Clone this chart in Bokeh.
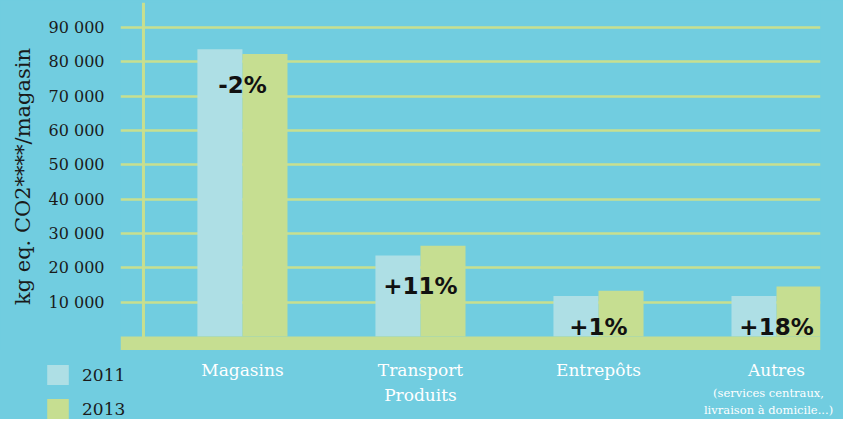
from bokeh.plotting import figure
from bokeh.layouts import column, row
from bokeh.models import (Range1d, FixedTicker, Span, BoxAnnotation, Legend, LegendItem,
                          ColumnDataSource)
from bokeh.transform import dodge
from bokeh.core.properties import value
from bokeh.embed import file_html
from bokeh.resources import INLINE

# ---- data ----
categories = ["Magasins", "Transport\nProduits", "Entrepôts", "Autres"]
autres_note = "(services centraux,\nlivraison à domicile...)"
values_2011 = [83700, 23600, 11800, 11800]
values_2013 = [82300, 26400, 13300, 14600]
changes = ["-2%", "+11%", "+1%", "+18%"]
y_ticks = [10000, 20000, 30000, 40000, 50000, 60000, 70000, 80000, 90000]
y_tick_labels = ["10 000", "20 000", "30 000", "40 000", "50 000",
                 "60 000", "70 000", "80 000", "90 000"]
series_names = ["2011", "2013"]

BG = "#71CDE0"
C2011 = "#AEDFE5"
C2013 = "#C6DE91"
GRID = "#C8DF8F"
SERIF = "DejaVu Serif"
INK = "#1a1a1a"

W = 843
LEFT, RIGHT = 120, 23
FRAME_W = W - LEFT - RIGHT
BOTTOM_H = 69
LEG_W = 145

xs = list(range(len(categories)))
src = ColumnDataSource(dict(
    x=xs, v2011=values_2011, v2013=values_2013, pct=changes,
    ylab=[min(a, b) for a, b in zip(values_2011, values_2013)],
))

xr = Range1d(-0.685, 3.247)
p = figure(width=W, height=350, output_backend="svg", toolbar_location=None,
           x_range=xr, y_range=Range1d(-4080, 97300), x_axis_location=None,
           min_border_left=LEFT, min_border_right=RIGHT, min_border_top=2, min_border_bottom=0)
p.background_fill_color = None
p.border_fill_color = BG
p.outline_line_color = None

bw = 0.253
p.vbar(x=dodge("x", -bw / 2, range=p.x_range), top="v2011", width=bw, bottom=0,
       source=src, fill_color=C2011, line_color=None)
p.vbar(x=dodge("x", bw / 2, range=p.x_range), top="v2013", width=bw, bottom=0,
       source=src, fill_color=C2013, line_color=None)

p.text(x="x", y="ylab", text="pct", source=src, text_align="center", text_baseline="middle",
       y_offset=31, text_font=value("DejaVu Sans"), text_font_style="bold",
       text_font_size="23px", text_color="#111111")

# decorations
p.add_layout(Span(location=-0.556, dimension="height", line_color=GRID, line_width=3))
p.add_layout(BoxAnnotation(top=0, fill_color=C2013, fill_alpha=1, line_color=None))

# grid
p.xgrid.grid_line_color = None
p.ygrid.grid_line_color = GRID
p.ygrid.grid_line_width = 2.5
p.ygrid.ticker = FixedTicker(ticks=y_ticks)

# y axis
ya = p.yaxis[0]
ya.ticker = FixedTicker(ticks=y_ticks)
ya.major_label_overrides = {t: l for t, l in zip(y_ticks, y_tick_labels)}
ya.axis_line_color = None
ya.major_tick_line_color = None
ya.minor_tick_line_color = None
ya.major_label_standoff = 10
ya.major_label_text_font = SERIF
ya.major_label_text_font_size = "16px"
ya.major_label_text_color = INK
ya.axis_label = "kg eq. CO2****/magasin"
ya.axis_label_text_font = SERIF
ya.axis_label_text_font_size = "21px"
ya.axis_label_text_font_style = "normal"
ya.axis_label_text_color = INK
ya.axis_label_standoff = 11


def strip(width, x_range):
    f = figure(width=width, height=BOTTOM_H, output_backend="svg", toolbar_location=None,
               x_range=x_range, y_range=Range1d(0, 1), x_axis_location=None,
               y_axis_location=None, min_border_left=0, min_border_right=0,
               min_border_top=0, min_border_bottom=0)
    f.background_fill_color = None
    f.border_fill_color = BG
    f.outline_line_color = None
    f.grid.grid_line_color = None
    return f


# ---- legend strip (bottom-left) ----
pleg = strip(LEG_W, Range1d(0, 1))
l1 = pleg.vbar(x=xs, top=values_2011, width=bw, fill_color=C2011, line_color=None, visible=False)
l2 = pleg.vbar(x=xs, top=values_2013, width=bw, fill_color=C2013, line_color=None, visible=False)
legend = Legend(items=[LegendItem(label=series_names[0], renderers=[l1]),
                       LegendItem(label=series_names[1], renderers=[l2])],
                location=(44, -2), orientation="vertical", glyph_width=27, glyph_height=25,
                spacing=9, padding=0, margin=0, label_standoff=11,
                background_fill_alpha=0, border_line_color=None,
                inactive_fill_alpha=0, click_policy="none",
                label_text_font=SERIF, label_text_font_size="17px", label_text_color=INK)
pleg.add_layout(legend)

# ---- category strip (bottom) ----
upp = (xr.end - xr.start) / FRAME_W
pcat = strip(W - LEG_W, Range1d(xr.start + (LEG_W - LEFT) * upp, xr.end + RIGHT * upp))
top = pcat.y_range.end
pcat.text(x=xs, y=[top] * len(xs), text=categories, text_align="center", text_baseline="top",
          y_offset=9, text_font=value(SERIF), text_font_size="17px", text_color="white",
          text_line_height=1.25)
pcat.text(x=[xs[-1]], y=[top], text=[autres_note], text_align="center", text_baseline="top",
          x_offset=-8, y_offset=35, text_font=value(SERIF), text_font_size="11.5px",
          text_color="white", text_line_height=1.25)

layout = column(p, row(pleg, pcat, spacing=0), spacing=0)
layout.styles = {"background-color": BG}
open("out.html", "w").write(file_html(layout, INLINE))
